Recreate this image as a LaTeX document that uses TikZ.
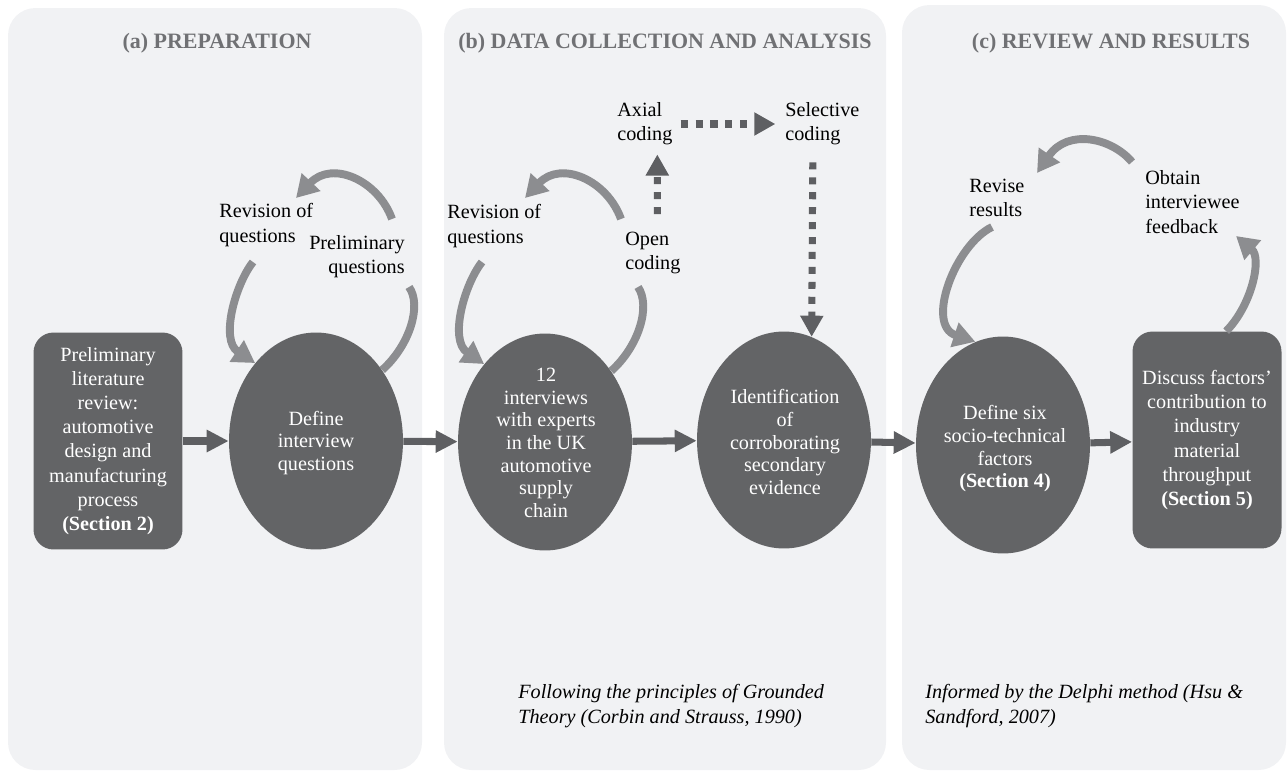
\documentclass[tikz,border=0pt]{standalone}
\usepackage{fontspec}
\setmainfont{Liberation Serif}
\usetikzlibrary{shapes.geometric,arrows.meta}
\definecolor{panelgray}{HTML}{F1F2F4}
\definecolor{stagegray}{HTML}{636466}
\definecolor{cyclegray}{HTML}{8C8D90}
\definecolor{flowgray}{HTML}{5E5F62}
\definecolor{titlegray}{HTML}{707174}
\tikzset{
  panel/.style={fill=panelgray,rounded corners=0.55cm},
  heading/.style={font=\fontsize{12.5}{15}\selectfont\bfseries,text=titlegray,inner sep=0pt},
  stage/.style={ellipse,fill=stagegray,minimum width=3.48cm,minimum height=4.34cm,inner sep=0pt},
  stagebox/.style={rectangle,rounded corners=0.4cm,fill=stagegray,minimum width=2.98cm,minimum height=4.34cm},
  stagetext/.style={text=white,align=center,font=\fontsize{11.5}{13.8}\selectfont,inner sep=0pt},
  ovaltext/.style={stagetext,font=\fontsize{11.5}{12.9}\selectfont},
  tag/.style={font=\fontsize{11.5}{13.8}\selectfont,inner sep=0pt},
  note/.style={font=\fontsize{11.5}{13.8}\selectfont\itshape,align=left,inner sep=0pt},
  flow/.style={line width=4pt,draw=flowgray,-{Triangle[length=12.5pt,width=12pt]}},
  cycleline/.style={line width=4.5pt,draw=cyclegray},
  cyclehead/.style={cycleline,-{Triangle[length=12.5pt,width=14pt]}},
  coding/.style={line width=4pt,draw=flowgray,dash pattern=on 4pt off 4.5pt,-{Triangle[length=12pt,width=12.5pt]}}
}
\begin{document}
\begin{tikzpicture}[x=0.02cm,y=-0.02cm]
  \useasboundingbox (0,0) rectangle (1288,774);
  \foreach \l/\r/\t in {8/422/8,444/886/8,902/1286/5} \fill[panel] (\l,\t) rectangle (\r,770);
  \node[heading] (heada) at (217,43) {(a) PREPARATION};
  \node[heading] (headb) at (665,43) {(b) DATA COLLECTION AND ANALYSIS};
  \node[heading] (headc) at (1111,43) {(c) REVIEW AND RESULTS};

  \node[stagebox,stagetext] (lit) at (108,441) {Preliminary\\literature\\review:\\automotive\\design and\\manufacturing\\process\\\textbf{(Section 2)}};
  \node[stage] (def) at (316,441) {};
  \node[ovaltext] (deftext) at (316,443) {Define\\interview\\questions};
  \node[stage] (interv) at (545,442) {};
  \node[ovaltext] (intervtext) at (546,443) {12\\interviews\\with experts\\in the UK\\automotive\\supply\\chain};
  \node[stage] (ident) at (784,440) {};
  \node[ovaltext] (identtext) at (785,442) {Identification\\of\\corroborating\\secondary\\evidence};
  \node[stage] (factors) at (1003,445) {};
  \node[ovaltext] (factorstext) at (1005,449) {Define six\\socio-technical\\factors\\\textbf{(Section 4)}};
  \node[stagebox,stagetext] (discuss) at (1207,440) {Discuss factors’\\contribution to\\industry\\material\\throughput\\\textbf{(Section 5)}};

  \draw[flow] (lit) -- (def);
  \draw[flow] (def) -- (interv);
  \draw[flow] (interv) -- (ident);
  \draw[flow] (ident) -- (factors);
  \draw[flow] (factors) -- (discuss);

  \node[tag,align=left,anchor=west] (revqa) at (219,225) {Revision of\\questions};
  \node[tag,align=right,anchor=east] (prelq) at (405,257) {Preliminary\\questions};
  \node[tag,align=left,anchor=west] (revqb) at (447,226) {Revision of\\questions};
  \node[tag,align=left,anchor=west] (openc) at (625,253) {Open\\coding};
  \node[tag,align=left,anchor=west] (axial) at (617,124) {Axial\\coding};
  \node[tag,align=left,anchor=west] (selc) at (785,124) {Selective\\coding};
  \node[tag,align=left,anchor=west] (revr) at (969,198) {Revise\\results};
  \node[tag,align=left,anchor=west] (obtain) at (1145,202) {Obtain\\interviewee\\feedback};

  \node[note,anchor=west] (gt) at (518,706) {Following the principles of Grounded\\Theory (Corbin and Strauss, 1990)};
  \node[note,anchor=west] (delphi) at (925,706) {Informed by the Delphi method (Hsu \&\\Sandford, 2007)};

  \draw[coding,shorten <=10pt,shorten >=5pt] ([xshift=2.5pt]openc.north) -- ([xshift=7.1pt]axial.south);
  \draw[coding,shorten <=4.5pt,shorten >=5.5pt] (axial.east) -- (selc.west);
  \draw[coding,shorten <=9.5pt] ([xshift=-5.4pt]selc.south) -- (ident.75);

  \coordinate (pqin) at (409,287);
  \coordinate (pqout) at (392,219);
  \coordinate (rqin) at (296,198);
  \coordinate (rqout) at (253,262);
  \draw[cycleline] (def.47) .. controls (410,345) and (422,305) .. (pqin);
  \draw[cyclehead] (pqout) .. controls (378,180) and (332,160) .. (rqin);
  \draw[cyclehead] (rqout) .. controls (235,285) and (220,340) .. (def.128);

  \coordinate (ocin) at (638,287);
  \coordinate (ocout) at (621,219);
  \coordinate (rbin) at (525,198);
  \coordinate (rbout) at (482,262);
  \draw[cycleline] (interv.47) .. controls (639,346) and (651,306) .. (ocin);
  \draw[cyclehead] (ocout) .. controls (607,180) and (561,160) .. (rbin);
  \draw[cyclehead] (rbout) .. controls (464,285) and (449,340) .. (interv.128);

  \coordinate (obin) at (1236,236);
  \coordinate (obout) at (1132,162);
  \coordinate (rrin) at (1037,173);
  \coordinate (rrout) at (992,227);
  \draw[cyclehead] (discuss.80) .. controls (1252,305) and (1262,258) .. (obin);
  \draw[cyclehead] (obout) .. controls (1112,138) and (1068,128) .. (rrin);
  \draw[cyclehead] (rrout) .. controls (955,245) and (925,325) .. (factors.105);
\end{tikzpicture}
\end{document}
